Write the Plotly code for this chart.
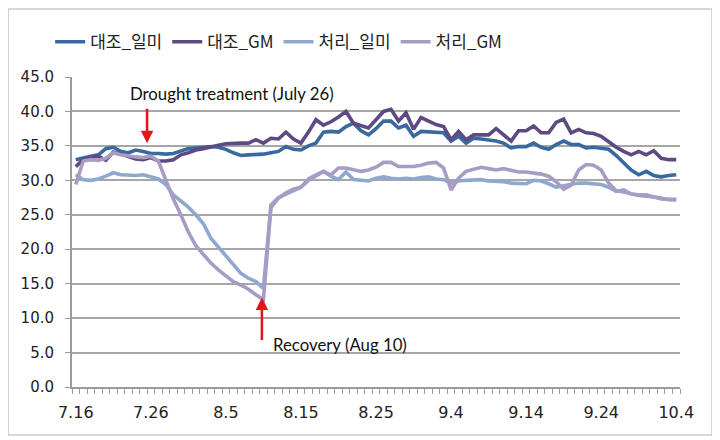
import plotly.graph_objects as go

# ---- data ----
dates = (["7.%d" % d for d in range(16, 32)] + ["8.%d" % d for d in range(1, 32)]
         + ["9.%d" % d for d in range(1, 31)] + ["10.%d" % d for d in range(1, 5)])

ctrl_ilmi = [33.0, 33.3, 33.5, 33.7, 34.6, 34.8, 34.2, 34.0, 34.4, 34.2,
             33.9, 33.9, 33.8, 33.9, 34.3, 34.6, 34.7, 34.8, 34.9, 34.8,
             34.5, 34.0, 33.6, 33.7, 33.7, 33.8, 34.0, 34.2, 34.9, 34.5,
             34.4, 35.0, 35.4, 37.0, 37.1, 37.0, 37.8, 38.3, 37.2, 36.6,
             37.5, 38.6, 38.6, 37.6, 38.0, 36.4, 37.1, 37.0, 36.9, 36.9,
             35.7, 36.4, 35.4, 36.1, 36.0, 35.9, 35.7, 35.4, 34.7, 34.9,
             34.9, 35.4, 34.8, 34.5, 35.2, 35.7, 35.2, 35.2, 34.7, 34.8,
             34.6, 34.5, 33.6, 32.6, 31.5, 30.8, 31.3, 30.7, 30.5, 30.7, 30.8]

ctrl_gm = [32.0, 33.0, 33.3, 33.5, 32.9, 34.1, 33.8, 33.4, 33.1, 33.0,
           33.3, 32.8, 32.8, 33.0, 33.7, 34.0, 34.4, 34.6, 34.9, 35.1,
           35.3, 35.4, 35.4, 35.4, 35.9, 35.4, 36.1, 36.0, 37.0, 36.0,
           35.4, 37.0, 38.8, 38.0, 38.5, 39.2, 40.0, 38.3, 38.0, 37.6,
           38.8, 40.0, 40.3, 38.6, 39.8, 37.4, 39.1, 38.6, 38.1, 37.8,
           35.9, 37.1, 35.9, 36.6, 36.6, 36.6, 37.5, 36.6, 35.7, 37.2,
           37.2, 37.9, 36.9, 36.9, 38.4, 38.9, 36.9, 37.4, 36.9, 36.8,
           36.4, 35.6, 34.8, 34.2, 33.7, 34.2, 33.7, 34.3, 33.2, 33.0, 33.0]

trt_ilmi = [30.8, 30.1, 30.0, 30.2, 30.6, 31.1, 30.8, 30.7, 30.7, 30.8,
            30.5, 30.2, 29.4, 27.9, 27.0, 26.1, 25.0, 23.7, 21.6, 20.3,
            19.0, 17.6, 16.5, 15.8, 15.3, 14.3, 26.4, 27.5, 28.0, 28.6,
            29.0, 30.0, 30.6, 31.3, 30.6, 30.1, 31.2, 30.1, 30.0, 29.9,
            30.3, 30.5, 30.3, 30.2, 30.3, 30.2, 30.4, 30.5, 30.2, 30.1,
            29.6, 29.9, 30.0, 30.1, 30.1, 29.9, 29.9, 29.8, 29.6, 29.6,
            29.5, 30.0, 29.9, 29.5, 29.0, 29.2, 29.4, 29.6, 29.6, 29.5,
            29.4, 29.0, 28.4, 28.6, 28.0, 27.9, 27.9, 27.6, 27.4, 27.2, 27.2]

trt_gm = [29.4, 32.8, 33.0, 32.9, 33.2, 34.0, 33.7, 33.5, 33.4, 33.3,
          33.5, 32.8, 30.1, 27.3, 25.0, 22.5, 20.5, 19.2, 18.0, 17.0,
          16.2, 15.3, 14.8, 14.2, 13.4, 12.7, 26.0, 27.4, 28.2, 28.7,
          29.0, 30.2, 30.8, 31.3, 30.8, 31.8, 31.8, 31.5, 31.3, 31.5,
          31.9, 32.6, 32.6, 32.0, 32.0, 32.0, 32.2, 32.5, 32.6, 31.8,
          28.6, 30.3, 31.3, 31.6, 31.9, 31.7, 31.5, 31.7, 31.4, 31.2,
          31.2, 31.1, 30.9, 30.6, 29.8, 28.7, 29.3, 31.5, 32.3, 32.2,
          31.5, 29.6, 28.5, 28.3, 28.0, 27.8, 27.7, 27.6, 27.3, 27.2, 27.2]

series_names = ["대조_일미", "대조_GM", "처리_일미", "처리_GM"]
label_every = 10
y_ticks = [0, 5, 10, 15, 20, 25, 30, 35, 40, 45]

# ---- figure ----
x = list(range(len(dates)))
colors = ["#386A9F", "#5E4A82", "#8EA8CF", "#A99CC4"]
fig = go.Figure()
all_series = [ctrl_ilmi, ctrl_gm, trt_ilmi, trt_gm]
for k in range(4):
    fig.add_trace(go.Scatter(x=x, y=all_series[k], mode="lines", name=series_names[k],
                             line=dict(color=colors[k], width=3.6)))

tickvals = x[::label_every]
ticktext = dates[::label_every]

# page has an 8px body margin, so the figure is 712x432
fig.update_layout(
    width=712, height=432,
    margin=dict(l=64, r=40, t=69, b=53),
    paper_bgcolor="white", plot_bgcolor="white",
    font=dict(family="Noto Sans CJK KR, Noto Sans, sans-serif", color="#222222"),
    showlegend=True,
    legend=dict(orientation="h", xref="container", yref="container",
                x=0.0592, y=0.921, xanchor="left", yanchor="middle",
                font=dict(size=17, family="Noto Sans CJK KR", color="#222222"),
                itemwidth=30, traceorder="normal"),
    xaxis=dict(range=[-0.5, len(dates) - 0.5], tickvals=tickvals, ticktext=ticktext,
               showgrid=False, zeroline=False, showline=True, linecolor="#9A9A9A", linewidth=2,
               ticks="", ticklabelstandoff=10, automargin=False,
               tickfont=dict(size=16, family="DejaVu Sans", color="#222222"),
               minor=dict(tick0=-0.5, dtick=1, ticks="outside", ticklen=5,
                          tickcolor="#9A9A9A", tickwidth=1, showgrid=False)),
    yaxis=dict(range=[0, 45], tickvals=y_ticks, tickformat=".1f",
               showgrid=True, gridcolor="#A6A6A6", gridwidth=2,
               zeroline=False, showline=True, linecolor="#9A9A9A", linewidth=2,
               ticks="outside", ticklen=5, tickcolor="#9A9A9A",
               ticklabelstandoff=8, automargin=False,
               tickfont=dict(size=15, family="DejaVu Sans", color="#222222")),
)

# arrows
red = "#E3141C"
fig.add_annotation(x=9.5, y=35.4, ax=9.5, ay=40.6, xref="x", yref="y", axref="x", ayref="y",
                   showarrow=True, arrowhead=2, arrowsize=1, arrowwidth=2.5, arrowcolor=red, text="")
fig.add_annotation(x=24.8, y=13.0, ax=24.8, ay=6.6, xref="x", yref="y", axref="x", ayref="y",
                   showarrow=True, arrowhead=2, arrowsize=1, arrowwidth=2.5, arrowcolor=red, text="")
fig.add_annotation(x=7.0, y=42.6, xref="x", yref="y", xanchor="left", yanchor="middle",
                   text="Drought treatment (July 26)", showarrow=False,
                   font=dict(size=16.8, family="Lato", color="#111111"))
fig.add_annotation(x=26.0, y=6.2, xref="x", yref="y", xanchor="left", yanchor="middle",
                   text="Recovery (Aug 10)", showarrow=False,
                   font=dict(size=16.8, family="Lato", color="#111111"))

# chart area frame
fig.add_shape(type="rect", xref="paper", yref="paper",
              x0=-0.105, x1=1.0526, y0=-0.155, y1=1.219,
              line=dict(color="#C8CDD2", width=1.5), layer="below")

fig.write_html("out.html")
